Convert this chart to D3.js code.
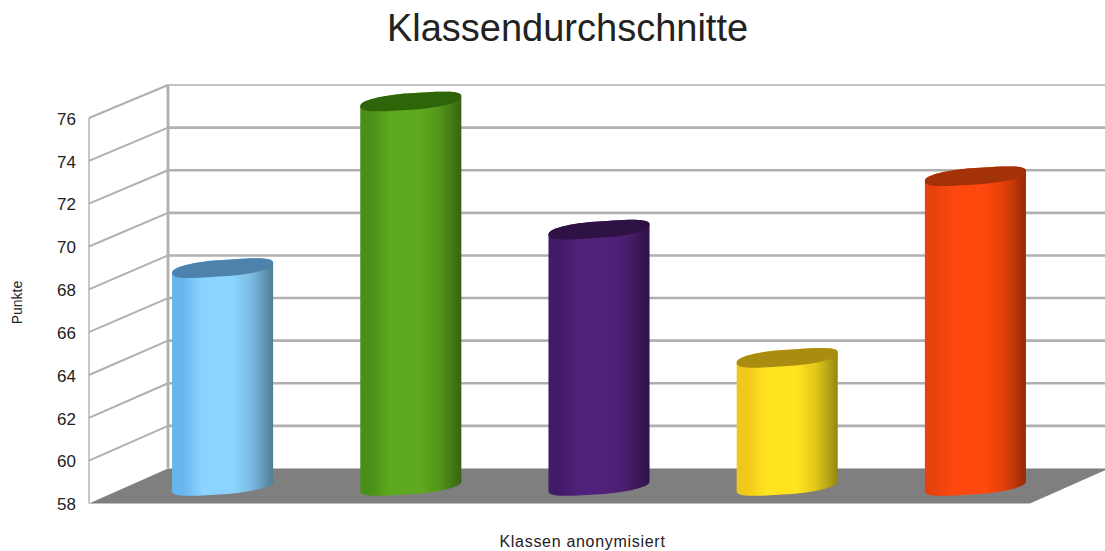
<!DOCTYPE html>
<html>
<head>
<meta charset="utf-8">
<script src="https://cdn.jsdelivr.net/npm/d3@7"></script>
<style>
  html, body { margin: 0; padding: 0; background: #fff; }
  svg { display: block; }
  text { font-family: "Liberation Sans", Arial, sans-serif; fill: #222; }
</style>
</head>
<body>
<svg id="chart" width="1105" height="551"></svg>
<script>
// Class averages
const categories = ["A", "B", "C", "D", "E"];
const values = [68.2, 76, 70, 64, 72.5];
const tickValues = [58, 60, 62, 64, 66, 68, 70, 72, 74, 76];
const bodyColors = ["#8bd4ff", "#5ea91f", "#50217a", "#ffe31f", "#ff480d"];
const edgeColors = ["#68b4ec", "#4a8f18", "#421b68", "#f0c81a", "#e8420c"];
const capColors = ["#4c82ab", "#2f6509", "#2e1246", "#a98c10", "#a33208"];
const titleText = "Klassendurchschnitte";
const xTitleText = "Klassen anonymisiert";
const yTitleText = "Punkte";

const W = 1105, H = 551;
const svg = d3.select("#chart").attr("viewBox", `0 0 ${W} ${H}`);

// Three vertical scales: front edge of the box, back wall, and the plane the cylinders stand in
const domainY = [58, 76];
const yFront = d3.scaleLinear().domain(domainY).range([503.5, 118]);
const yBack = d3.scaleLinear().domain(domainY).range([468.5, 85]);
const yMid = d3.scaleLinear().domain(domainY).range([486, 101.5]);

const frontLeft = 89, frontRight = 1030, depthX = 79;
const x = d3.scaleBand()
  .domain(categories)
  .range([frontLeft + depthX / 2, frontRight + depthX / 2])
  .paddingInner(0.463)
  .paddingOuter(0.2315);

const gridColor = "#b0b0b0";

// Floor
svg.append("polygon")
  .attr("fill", "#7f7f7f")
  .attr("points", [
    [frontLeft, yFront(58)], [frontRight, yFront(58)],
    [frontRight + depthX, yBack(58)], [frontLeft + depthX, yBack(58)]
  ].map(p => p.join(",")).join(" "));

// Wall gridlines: slanted on the side wall, level on the back wall
const grid = svg.append("g").attr("fill", "none").attr("stroke", gridColor);
grid.selectAll("line.side").data(tickValues.slice(1)).join("line")
  .attr("class", "side")
  .attr("x1", frontLeft).attr("y1", d => yFront(d))
  .attr("x2", frontLeft + depthX).attr("y2", d => yBack(d))
  .attr("stroke-width", 2);
grid.selectAll("line.back").data(tickValues.slice(1)).join("line")
  .attr("class", "back")
  .attr("x1", frontLeft + depthX).attr("y1", d => yBack(d))
  .attr("x2", W).attr("y2", d => yBack(d))
  .attr("stroke-width", d => d === 76 ? 1.5 : 2.6);
grid.append("line")
  .attr("x1", frontLeft).attr("x2", frontLeft)
  .attr("y1", yFront(76)).attr("y2", yFront(58))
  .attr("stroke-width", 1.4);
grid.append("line")
  .attr("x1", frontLeft + depthX).attr("x2", frontLeft + depthX)
  .attr("y1", yBack(76)).attr("y2", yBack(58))
  .attr("stroke-width", 2.8);

// Horizontal shading that gives each cylinder its round look
const defs = svg.append("defs");
bodyColors.forEach((c, i) => {
  const base = d3.color(c);
  const g = defs.append("linearGradient")
    .attr("id", `body-${i}`)
    .attr("x1", 0).attr("x2", 1).attr("y1", 0).attr("y2", 0);
  [
    [0, d3.color(edgeColors[i])],
    [0.1, d3.color(edgeColors[i])],
    [0.3, base],
    [0.6, base],
    [0.78, base.darker(0.35)],
    [0.92, base.darker(1)],
    [1, base.darker(1.5)]
  ].forEach(([o, col]) => g.append("stop").attr("offset", o).attr("stop-color", col.formatHex()));
});

// A tilted, slightly squared ellipse outline: cx, cy centre, rx half width
const ryCap = 8.2, tilt = 5, roundness = 0.8;
const signedPow = v => Math.sign(v) * Math.pow(Math.abs(v), roundness);
const ellipsePoint = (cx, cy, rx, t) => [
  cx + rx * signedPow(Math.cos(t)),
  cy + ryCap * signedPow(Math.sin(t)) - tilt * Math.cos(t)
];
const outline = d3.line();
const angles = d3.range(0, 61).map(i => i / 60);

function bodyPath(d, i) {
  const rx = x.bandwidth() / 2, cx = x(categories[i]) + rx;
  const top = yMid(d), bottom = yMid(58);
  const lower = angles.map(a => ellipsePoint(cx, bottom, rx, a * Math.PI));          // right to left, front side
  const upper = angles.map(a => ellipsePoint(cx, top, rx, Math.PI + a * Math.PI));   // left to right, back side
  return outline([...lower, ...upper]) + "Z";
}
function capPath(d, i) {
  const rx = x.bandwidth() / 2, cx = x(categories[i]) + rx;
  return outline(angles.map(a => ellipsePoint(cx, yMid(d), rx, a * 2 * Math.PI))) + "Z";
}

const bars = svg.append("g");
bars.selectAll("path.body").data(values).join("path")
  .attr("class", "body")
  .attr("d", bodyPath)
  .attr("fill", (d, i) => `url(#body-${i})`);
bars.selectAll("path.cap").data(values).join("path")
  .attr("class", "cap")
  .attr("d", capPath)
  .attr("fill", (d, i) => capColors[i]);

// Value axis
const axis = svg.append("g")
  .attr("transform", `translate(${frontLeft - 10},0.8)`)
  .call(d3.axisLeft(yFront).tickValues(tickValues).tickSize(0).tickPadding(3));
axis.select(".domain").remove();
axis.selectAll("text")
  .style("font-family", '"Liberation Sans", Arial, sans-serif')
  .style("font-size", "17px")
  .attr("fill", "#222");

// Titles
svg.append("text")
  .attr("x", 567.5).attr("y", 41)
  .attr("text-anchor", "middle")
  .style("font-size", "38px")
  .text(titleText);
svg.append("text")
  .attr("x", 582.5).attr("y", 547)
  .attr("text-anchor", "middle")
  .style("font-size", "16px")
  .style("letter-spacing", "0.7px")
  .text(xTitleText);
svg.append("text")
  .attr("transform", "translate(22,302.5) rotate(-90)")
  .attr("text-anchor", "middle")
  .style("font-size", "14px")
  .text(yTitleText);
</script>
</body>
</html>
